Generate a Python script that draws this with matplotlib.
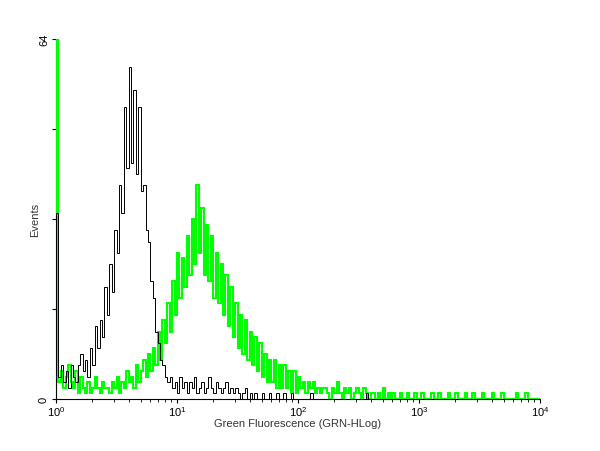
import numpy as np
import matplotlib.pyplot as plt

plt.rcParams['font.family'] = ['Liberation Sans', 'DejaVu Sans']

# channel bins: 0.02 decade wide from 10^0 to 10^4
log_edges = np.arange(0, 4.0001, 0.02)
edges = 10 ** log_edges

# isotype / unstained control (black)
control = [
    33, 4, 6, 3, 5, 2, 6, 4, 3, 6,
    8, 5, 7, 4, 9, 6, 13, 9, 14, 11,
    20, 15, 24, 19, 30, 26, 38, 33, 52, 41,
    59, 42, 55, 40, 52, 37, 38, 30, 28, 21,
    18, 12, 10, 7, 6, 4, 3, 4, 2, 3,
    1, 4, 2, 3, 1, 3, 2, 4, 1, 2,
    3, 1, 2, 4, 2, 1, 3, 2, 1, 2,
    3, 1, 2, 1, 2, 1, 0, 1, 2, 0,
    1, 0, 1, 0, 0, 1, 0, 0, 1, 0,
    0, 1, 0, 0, 1, 0, 0, 1, 0, 0,
    0, 0, 0, 0, 0, 1, 0, 0, 0, 0,
    0, 0, 0, 0, 0, 0, 0, 0, 0, 0,
    0, 0, 0, 0, 0, 0, 0, 0, 1, 0,
]
control = control + [0] * (len(edges) - 1 - len(control))

# stained sample (green)
stained = [
    64, 3, 5, 2, 4, 6, 3, 2, 5, 1,
    4, 2, 1, 3, 1, 2, 4, 2, 1, 3,
    2, 2, 1, 3, 2, 4, 1, 3, 2, 5,
    3, 4, 2, 6, 3, 5, 7, 4, 8, 5,
    9, 6, 12, 7, 14, 10, 17, 12, 21, 15,
    26, 18, 25, 20, 29, 22, 32, 24, 38, 26,
    34, 22, 31, 21, 29, 18, 26, 17, 24, 15,
    22, 13, 20, 11, 17, 9, 15, 8, 14, 7,
    12, 6, 11, 5, 10, 4, 8, 3, 7, 3,
    7, 2, 6, 2, 6, 2, 5, 1, 5, 1,
    4, 2, 3, 1, 3, 2, 3, 1, 2, 1,
    2, 2, 1, 0, 2, 1, 3, 1, 0, 2,
    1, 2, 0, 1, 2, 1, 0, 2, 1, 0,
    1, 1, 0, 1, 0, 2, 0, 1, 0, 1,
    0, 0, 1, 0, 0, 1, 0, 0, 1, 0,
    0, 1, 0, 0, 0, 1, 0, 0, 1, 0,
    0, 0, 1, 0, 0, 1, 0, 0, 0, 1,
    0, 0, 1, 0, 0, 0, 1, 0, 0, 0,
    1, 0, 0, 0, 1, 0, 0, 0, 0, 0,
    1, 0, 0, 0, 1, 0, 0, 0, 0, 0,
]

fig = plt.figure(figsize=(6, 4.52), dpi=100)
ax = fig.add_axes([56 / 600, 52 / 452, 484 / 600, 360 / 452])

ax.stairs(stained, edges, color='#00ff00', linewidth=1.5, zorder=3)
ax.stairs(control, edges, color='black', linewidth=0.7, zorder=4)

ax.set_xscale('log')
ax.set_xlim(1, 1e4)
ax.set_ylim(0, 64)

ax.spines['top'].set_visible(False)
ax.spines['right'].set_visible(False)
ax.spines['left'].set_linewidth(0.8)
ax.spines['bottom'].set_linewidth(0.8)

ax.set_yticks([0, 16, 32, 48, 64])
ax.set_yticklabels(['0', '', '', '', '64'], rotation=90, va='center', fontsize=8)
ax.tick_params(axis='y', length=3, width=0.8, pad=2)
ax.tick_params(axis='x', which='major', length=3, width=0.8, labelsize=8, pad=1)
ax.tick_params(axis='x', which='minor', length=2, width=0.6)

ax.set_xlabel('Green Fluorescence (GRN-HLog)', fontsize=8, color='#333333', labelpad=0)
ax.set_ylabel('Events', fontsize=8, color='#333333', labelpad=-1)

fig.savefig('out.png', dpi=100)
